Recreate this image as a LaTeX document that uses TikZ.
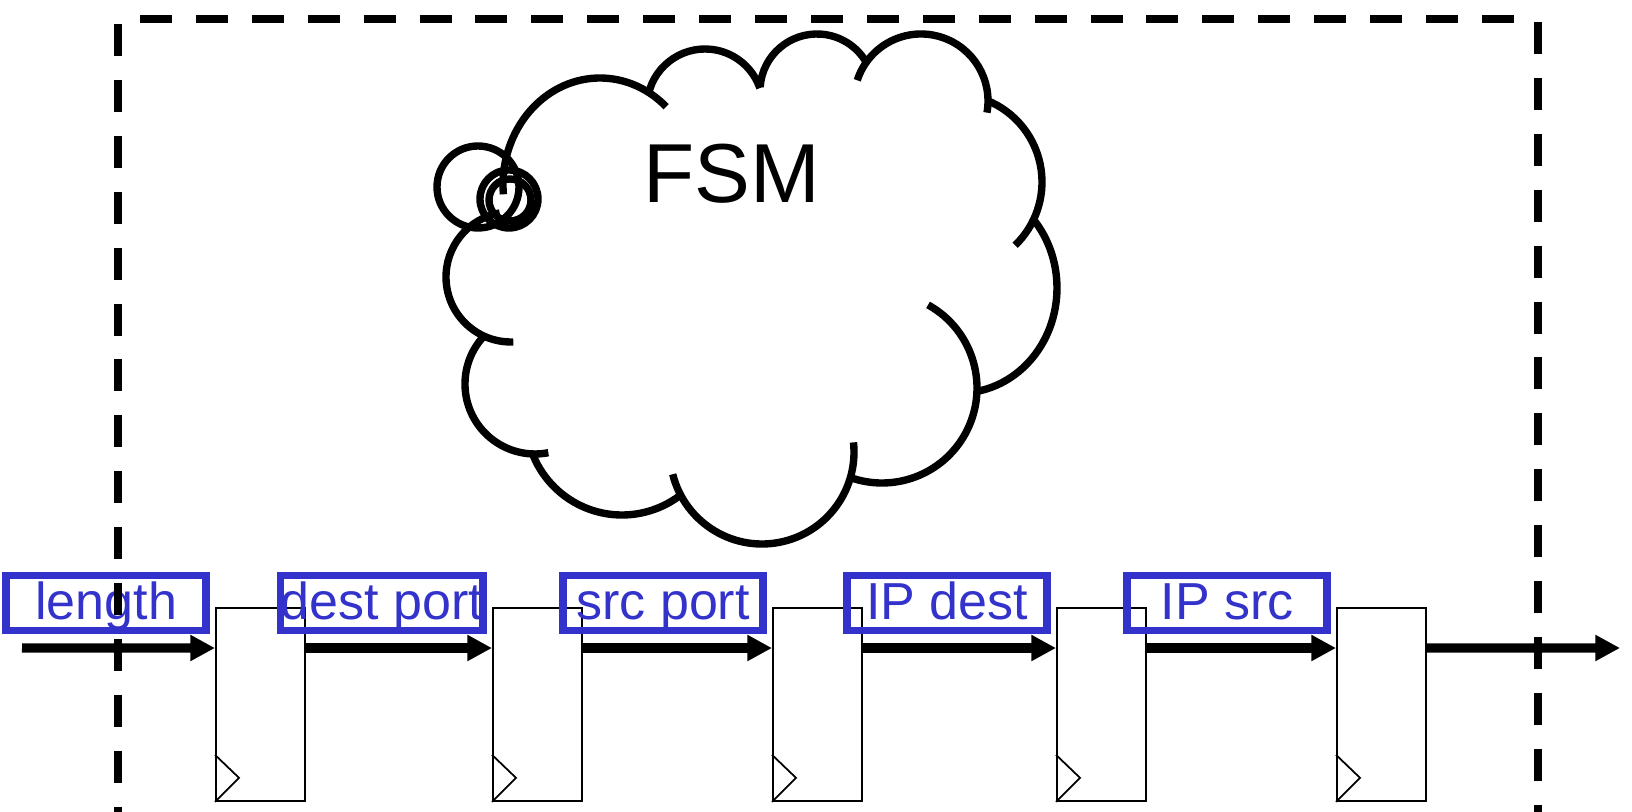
\documentclass[tikz,border=0pt]{standalone}
\usepackage{fontspec}
\setmainfont{Liberation Sans}
\usepackage{xcolor}
\usetikzlibrary{arrows.meta,positioning}
\definecolor{fieldblue}{RGB}{51,51,204}

\begin{document}
\begin{tikzpicture}[
	x=0.01cm, y=0.01cm,
	reg/.style={draw, line width=0.5pt, minimum width=0.89cm, minimum height=1.93cm, inner sep=0pt, anchor=north west},
	bus/.style={line width=2.6pt, -{Triangle[length=7pt,width=7pt]}},
	field/.style={draw=fieldblue, text=fieldblue, line width=2.2pt, minimum width=2cm, minimum height=0.55cm, inner sep=0pt, text height=0.95em, text depth=0pt, font=\fontsize{14.8}{17}\selectfont},
	cloudline/.style={line width=2.1pt},
	frame/.style={line width=2.2pt, dash pattern=on 9.1pt off 6.8pt}
	]
\useasboundingbox (0,0) rectangle (1632,812);
% registers
\node[reg] (r1) at (215,205) {};
\node[reg] (r2) at (492,205) {};
\node[reg] (r3) at (772,205) {};
\node[reg] (r4) at (1056,205) {};
\node[reg] (r5) at (1336,205) {};
% clock inputs
\draw[line width=0.5pt] ([yshift=0.47cm]r1.south west) -- ++(24,-23) -- (r1.south west);
\draw[line width=0.5pt] ([yshift=0.47cm]r2.south west) -- ++(24,-23) -- (r2.south west);
\draw[line width=0.5pt] ([yshift=0.47cm]r3.south west) -- ++(24,-23) -- (r3.south west);
\draw[line width=0.5pt] ([yshift=0.47cm]r4.south west) -- ++(24,-23) -- (r4.south west);
\draw[line width=0.5pt] ([yshift=0.47cm]r5.south west) -- ++(24,-23) -- (r5.south west);
% data path
\coordinate (din) at (22,164);
\coordinate (dout) at (1620,164);
\path (din) edge[bus] ([yshift=-0.41cm]r1.north west);
\path ([yshift=-0.41cm]r1.north east) edge[bus] ([yshift=-0.41cm]r2.north west);
\path ([yshift=-0.41cm]r2.north east) edge[bus] ([yshift=-0.41cm]r3.north west);
\path ([yshift=-0.41cm]r3.north east) edge[bus] ([yshift=-0.41cm]r4.north west);
\path ([yshift=-0.41cm]r4.north east) edge[bus] ([yshift=-0.41cm]r5.north west);
\path ([yshift=-0.41cm]r5.north east) edge[bus] (dout);
% header fields
\node[field, left=0.05cm of r1.north west, yshift=0.04cm] (f1) {length};
\node[field, left=0.05cm of r2.north west, yshift=0.04cm] (f2) {dest port};
\node[field, left=0.05cm of r3.north west, yshift=0.04cm] (f3) {src port};
\node[field, left=0.05cm of r4.north west, yshift=0.04cm] (f4) {IP dest};
\node[field, left=0.05cm of r5.north west, yshift=0.04cm] (f5) {IP src};
% cloud
\foreach \cx/\cy/\rx/\ry/\sa/\ea in {600/627/97/107/185/47, 705/705/58/58/168/19,
	817/721/57/57/176/30, 921/711/67/67/162/-10, 954/630/88/88/68/-46,
	960/524/97/105/42/-80, 882/424/95/95/61/-110, 762/360/92/92/194/366,
	622/393/96/96/-54/-160, 535/428/70/70/137/281, 511/535/65/65/272/100}
	\draw[cloudline] (\cx,\cy) ++({\rx*cos(\sa)},{\ry*sin(\sa)}) arc[start angle=\sa, end angle=\ea, x radius=\rx, y radius=\ry];
\draw[cloudline] (478,625) circle[radius=41];
\draw[cloudline] (509,613) circle[radius=29];
\draw[cloudline] (510,612) circle[radius=21];
\node[font=\fontsize{23.8}{28}\selectfont, anchor=base] (fsm) at (732,609) {FSM};
% block boundary
\draw[frame] (118,788) -- (118,0) (140,793) -- (1517,793) (1538,790) -- (1538,0);
\end{tikzpicture}
\end{document}
